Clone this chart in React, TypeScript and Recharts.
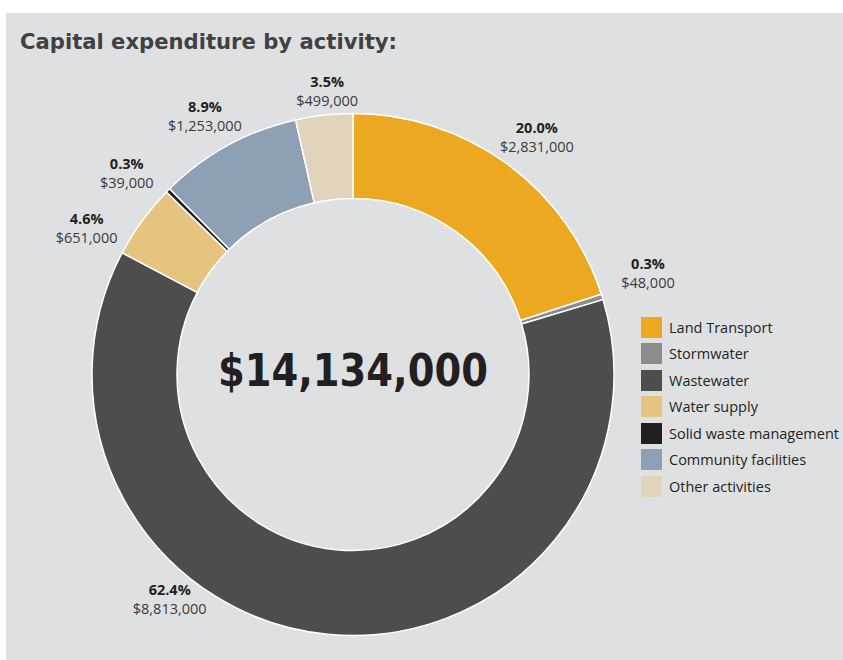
import React from "react";
import { PieChart, Pie, Cell, Legend, Label } from "recharts";

// Capital expenditure by activity (NZD)
const activities = [
  "Land Transport",
  "Stormwater",
  "Wastewater",
  "Water supply",
  "Solid waste management",
  "Community facilities",
  "Other activities",
];
const amounts = [2831000, 48000, 8813000, 651000, 39000, 1253000, 499000];
const colours = ["#eca820", "#8c8c8e", "#4d4d4d", "#e6c47f", "#231f20", "#8ea0b3", "#e0d5bc"];
const totalLabel = "$14,134,000";

const chartData = activities.map((name, i) => ({ name, value: amounts[i] }));

// labels were hand-placed in the original: [angle, gap beyond outer radius]
const labelPlacement: Record<string, [number, number]> = {
  "Land Transport": [52.2, 39],
  Stormwater: [19, 51],
  Wastewater: [-129.2, 29],
  "Water supply": [151.2, 43],
  "Solid waste management": [138.3, 42],
  "Community facilities": [119.8, 37],
  "Other activities": [95.2, 24],
};

const LABEL_FONT = "'Open Sans', sans-serif";
const CX = 353;
const CY = 374.5;

function formatMoney(v: number): string {
  return "$" + v.toLocaleString("en-US");
}

function renderLabel(props: any) {
  const { cx, cy, midAngle, outerRadius, percent, name, value } = props;
  const [angle, gap] = labelPlacement[name] ?? [midAngle, 40];
  const r = outerRadius + gap;
  const rad = (-angle * Math.PI) / 180;
  const x = cx + Math.cos(rad) * r;
  const y = cy + Math.sin(rad) * r;
  return (
    <g>
      <text
        x={x}
        y={y - 4}
        textAnchor="middle"
        fontFamily={LABEL_FONT}
        fontWeight={700}
        fontSize={14.5}
        fill="#231f20"
      >
        {(percent * 100).toFixed(1)}%
      </text>
      <text
        x={x}
        y={y + 15}
        textAnchor="middle"
        fontFamily={LABEL_FONT}
        fontSize={14.5}
        fill="#3a3a3c"
      >
        {formatMoney(value)}
      </text>
    </g>
  );
}

function LegendBox() {
  return (
    <div style={{ fontFamily: LABEL_FONT, fontSize: 14.5, color: "#231f20" }}>
      {activities.map((name, i) => (
        <div key={name} style={{ display: "flex", alignItems: "center", height: 26.5 }}>
          <div style={{ width: 21, height: 21, background: colours[i], marginRight: 7 }} />
          <span style={{ whiteSpace: "nowrap" }}>{name}</span>
        </div>
      ))}
    </div>
  );
}

export default function App() {
  return (
    <div style={{ position: "absolute", left: 0, top: 0, width: 843, height: 660, background: "#fff" }}>
      <div style={{ position: "absolute", left: 6, top: 13, width: 837, height: 647, background: "#dfe0e2" }} />
      <svg style={{ position: "absolute", left: 0, top: 0 }} width={843} height={70}>
        <text
          x={20}
          y={49}
          fontFamily="'DejaVu Sans', sans-serif"
          fontWeight={700}
          fontSize={22}
          fill="#414042"
          textLength={377}
          lengthAdjust="spacingAndGlyphs"
        >
          Capital expenditure by activity:
        </text>
      </svg>
      <div style={{ position: "absolute", left: 0, top: 0 }}>
        <PieChart width={843} height={660} margin={{ top: 0, right: 0, bottom: 0, left: 0 }}>
          <Pie
            data={chartData}
            dataKey="value"
            nameKey="name"
            cx={CX}
            cy={CY}
            innerRadius={176}
            outerRadius={261}
            startAngle={90}
            endAngle={-270}
            stroke="#ffffff"
            strokeWidth={1.5}
            label={renderLabel}
            labelLine={false}
            isAnimationActive={false}
          >
            {chartData.map((d, i) => (
              <Cell key={d.name} fill={colours[i]} />
            ))}
            <Label
              position="center"
              content={() => (
                <text
                  x={CX}
                  y={CY + 11}
                  textAnchor="middle"
                  fontFamily="'DejaVu Sans', sans-serif"
                  fontWeight={700}
                  fontSize={45}
                  fill="#231f20"
                  textLength={270}
                  lengthAdjust="spacingAndGlyphs"
                >
                  {totalLabel}
                </text>
              )}
            />
          </Pie>
          <Legend
            content={() => <LegendBox />}
            wrapperStyle={{ position: "absolute", left: 641, top: 314, width: 202 }}
          />
        </PieChart>
      </div>
    </div>
  );
}
